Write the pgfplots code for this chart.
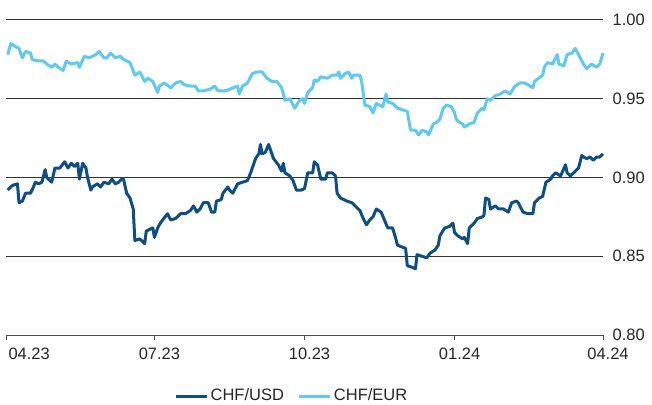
\documentclass[border=0pt]{standalone}
\usepackage{pgfplots}
\pgfplotsset{compat=1.18}
\usepackage{fontspec}
\setmainfont{Liberation Sans}
\definecolor{usd}{HTML}{0B4F86}
\definecolor{eur}{HTML}{5DC9F5}
\begin{document}
\begin{tikzpicture}
\fontsize{16.5bp}{19bp}\selectfont
\begin{axis}[
  at={(0,0)}, anchor=south west,
  scale only axis, width=597bp, height=315bp,
  xmin=0, xmax=366, ymin=0.80, ymax=1.00,
  axis x line*=bottom, axis y line*=right,
  x axis line style={draw=black!70, line width=0.9bp},
  y axis line style={draw=none},
  xtick={0,91,183,275,366},
  xticklabels={\hspace*{-5bp}\rlap{04.23},07.23,10.23,01.24,04.24},
  xticklabel style={xshift=5bp, yshift=-2bp},
  major tick length=5bp,
  xtick style={draw=black!70, line width=0.9bp},
  xtick align=outside,
  ytick={0.80,0.85,0.90,0.95,1.00},
  ytick style={draw=none},
  yticklabel pos=right,
  yticklabel style={/pgf/number format/fixed, /pgf/number format/fixed zerofill, /pgf/number format/precision=2, xshift=4bp},
  /pgf/number format/assume math mode=true,
  ymajorgrids,
  major grid style={draw=black!80, line width=1bp},
  tick label style={font=\fontsize{16.5bp}{19bp}\selectfont, text=black!85},
  legend style={at={(0.479,-0.194)}, anchor=center, draw=none, fill=none,
    legend columns=2, font=\fontsize{16.5bp}{19bp}\selectfont, text=black!85,
    /tikz/every even column/.append style={column sep=12bp}},
  legend image code/.code={\draw[#1] (0bp,0bp) -- (31bp,0bp);},
  clip=false,
]
\addplot[usd, line width=3bp, line join=round] coordinates {
(1,0.892)(4,0.895)(7,0.896)(8,0.884)(10,0.885)(12,0.890)(15,0.890)(16,0.892)(18,0.897)(20,0.896)(22,0.897)(24,0.905)(25,0.900)(28,0.897)(30,0.906)(33,0.906)(36,0.910)(38,0.906)(40,0.909)(42,0.907)(44,0.909)(45,0.899)(47,0.909)(49,0.906)(50,0.900)(52,0.892)(53,0.894)(56,0.896)(58,0.894)(60,0.897)(63,0.896)(65,0.899)(67,0.896)(69,0.897)(71,0.899)(72,0.899)(74,0.890)(76,0.887)(78,0.880)(79,0.860)(82,0.861)(85,0.858)(86,0.866)(90,0.868)(91,0.862)(93,0.868)(94,0.870)(96,0.873)(99,0.877)(101,0.873)(104,0.874)(107,0.877)(110,0.877)(113,0.879)(115,0.882)(117,0.878)(119,0.880)(121,0.884)(124,0.884)(126,0.878)(128,0.878)(129,0.885)(132,0.886)(133,0.890)(136,0.894)(137,0.892)(139,0.890)(142,0.896)(145,0.897)(148,0.898)(150,0.903)(153,0.912)(155,0.915)(156,0.921)(157,0.915)(159,0.916)(161,0.921)(164,0.912)(167,0.908)(169,0.904)(170,0.909)(171,0.903)(174,0.901)(176,0.898)(178,0.892)(181,0.892)(183,0.893)(185,0.903)(188,0.903)(189,0.910)(191,0.908)(193,0.899)(196,0.899)(197,0.903)(200,0.903)(202,0.901)(203,0.890)(205,0.887)(207,0.886)(209,0.885)(212,0.884)(214,0.882)(217,0.879)(219,0.874)(221,0.870)(223,0.873)(225,0.875)(227,0.880)(230,0.878)(232,0.873)(234,0.868)(237,0.868)(239,0.861)(240,0.857)(245,0.855)(246,0.844)(249,0.843)(251,0.842)(252,0.851)(255,0.850)(258,0.849)(260,0.852)(263,0.854)(265,0.857)(266,0.863)(269,0.868)(272,0.869)(274,0.871)(275,0.865)(277,0.863)(280,0.861)(281,0.862)(283,0.858)(284,0.868)(286,0.870)(287,0.871)(289,0.874)(292,0.875)(293,0.876)(294,0.887)(296,0.886)(297,0.880)(300,0.882)(302,0.880)(305,0.880)(308,0.878)(310,0.884)(313,0.885)(314,0.884)(317,0.878)(320,0.877)(323,0.877)(324,0.884)(327,0.887)(329,0.888)(331,0.897)(334,0.899)(335,0.901)(337,0.903)(340,0.901)(343,0.908)(344,0.903)(346,0.901)(349,0.904)(351,0.906)(353,0.914)(354,0.913)(356,0.912)(358,0.913)(360,0.911)(362,0.913)(364,0.913)(366,0.915)
};
\addlegendentry{CHF/USD}
\addplot[eur, line width=3bp, line join=round] coordinates {
(1,0.978)(3,0.985)(6,0.983)(8,0.982)(10,0.976)(12,0.980)(15,0.979)(16,0.975)(19,0.974)(23,0.974)(25,0.972)(28,0.970)(30,0.972)(32,0.970)(35,0.968)(37,0.974)(40,0.972)(44,0.973)(45,0.970)(48,0.977)(51,0.976)(55,0.978)(57,0.980)(60,0.976)(62,0.976)(64,0.979)(67,0.976)(70,0.977)(72,0.975)(76,0.973)(79,0.965)(82,0.967)(85,0.961)(87,0.963)(90,0.961)(93,0.954)(94,0.958)(97,0.960)(101,0.957)(104,0.960)(107,0.961)(109,0.959)(113,0.958)(116,0.958)(118,0.955)(121,0.955)(125,0.956)(128,0.958)(130,0.955)(134,0.955)(137,0.956)(142,0.958)(143,0.953)(145,0.958)(148,0.960)(151,0.966)(154,0.967)(157,0.967)(160,0.963)(163,0.961)(166,0.961)(169,0.957)(171,0.949)(174,0.950)(177,0.944)(180,0.949)(182,0.950)(183,0.947)(185,0.954)(188,0.957)(189,0.962)(191,0.961)(193,0.964)(197,0.963)(200,0.965)(203,0.965)(204,0.967)(205,0.963)(208,0.966)(210,0.967)(212,0.963)(213,0.965)(217,0.965)(218,0.961)(220,0.946)(223,0.945)(225,0.941)(227,0.947)(231,0.945)(233,0.953)(234,0.948)(237,0.947)(240,0.944)(246,0.942)(248,0.930)(251,0.930)(253,0.927)(255,0.930)(258,0.929)(259,0.927)(262,0.934)(264,0.935)(266,0.937)(268,0.944)(270,0.946)(273,0.945)(275,0.941)(276,0.937)(278,0.935)(280,0.934)(281,0.932)(284,0.934)(287,0.935)(289,0.941)(292,0.944)(293,0.943)(295,0.950)(297,0.949)(300,0.952)(303,0.953)(306,0.955)(309,0.953)(312,0.958)(315,0.960)(318,0.960)(323,0.957)(324,0.961)(329,0.965)(330,0.970)(332,0.973)(335,0.972)(338,0.978)(339,0.972)(342,0.971)(344,0.978)(347,0.979)(349,0.982)(352,0.976)(354,0.972)(356,0.969)(359,0.972)(362,0.970)(364,0.972)(366,0.979)
};
\addlegendentry{CHF/EUR}
\end{axis}
\pgfresetboundingbox
\useasboundingbox (-6bp,-70bp) rectangle (646bp,335bp);
\end{tikzpicture}
\end{document}
